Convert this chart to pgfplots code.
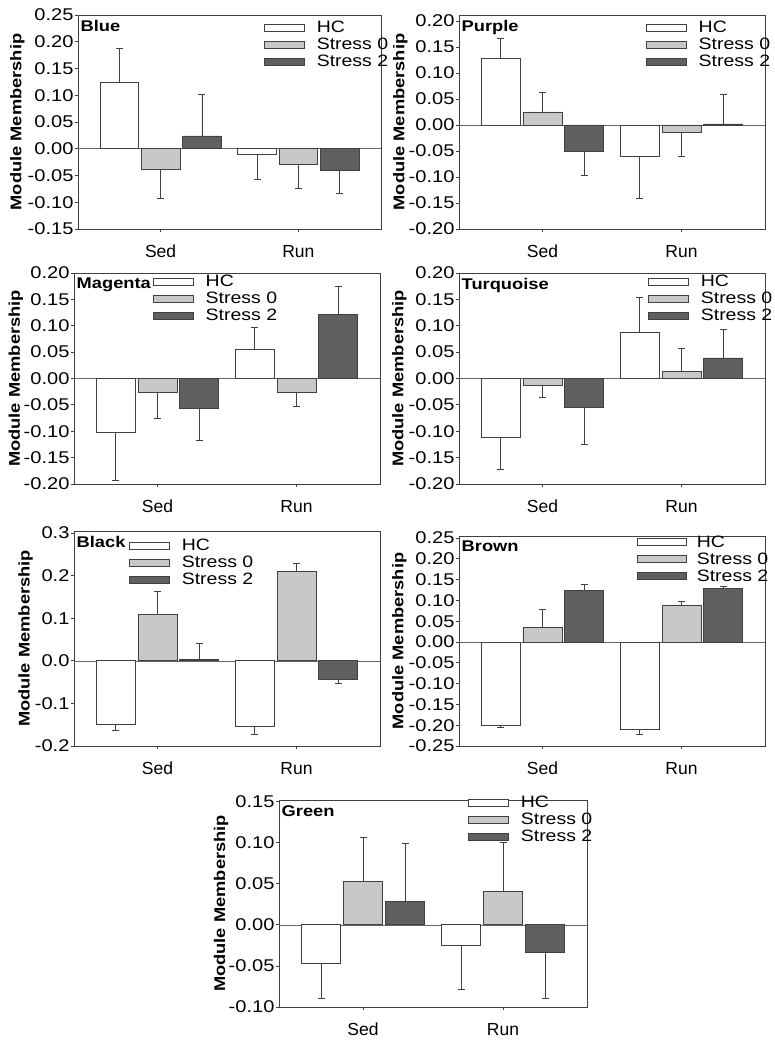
\documentclass[border=0pt]{standalone}
\usepackage{pgfplots}
\pgfplotsset{compat=1.18}
\usepackage{pgfplotstable}
\usepackage{fontspec}
\setmainfont{Liberation Sans}
\newfontfamily\wideF[FakeStretch=1.18]{Liberation Sans}
\newcommand\tickfont{\wideF\fontsize{17}{19}\selectfont}
\newcommand\legfont{\wideF\fontsize{16.5}{18}\selectfont}
\newcommand\titfont{\wideF\bfseries\fontsize{15.5}{17}\selectfont}
\newcommand\ylabfont{\wideF\bfseries\fontsize{15.5}{17}\selectfont}
\newcommand\xlabfont{\fontsize{17.5}{19}\selectfont}
\definecolor{sz}{HTML}{C8C8C8}
\definecolor{st}{HTML}{606060}
\definecolor{edge}{HTML}{404040}

% columns: x, value, error plus, error minus for HC, Stress 0, Stress 2
\pgfplotstableread{
x hc hcp hcm s0 s0p s0m s2 s2p s2m
0 0.124 0.064 0 -0.038 0 0.055 0.024 0.078 0
1 -0.011 0 0.046 -0.029 0 0.046 -0.041 0 0.043
}\tblue
\pgfplotstableread{
x hc hcp hcm s0 s0p s0m s2 s2p s2m
0 0.129 0.038 0 0.025 0.037 0 -0.050 0 0.047
1 -0.061 0 0.081 -0.015 0 0.046 0.002 0.056 0
}\tpurple
\pgfplotstableread{
x hc hcp hcm s0 s0p s0m s2 s2p s2m
0 -0.102 0 0.092 -0.027 0 0.049 -0.056 0 0.062
1 0.056 0.041 0 -0.027 0 0.026 0.121 0.053 0
}\tmagenta
\pgfplotstableread{
x hc hcp hcm s0 s0p s0m s2 s2p s2m
0 -0.112 0 0.061 -0.013 0 0.022 -0.055 0 0.070
1 0.088 0.065 0 0.013 0.045 0 0.039 0.054 0
}\tturq
\pgfplotstableread{
x hc hcp hcm s0 s0p s0m s2 s2p s2m
0 -0.149 0 0.015 0.110 0.053 0 0.003 0.039 0
1 -0.155 0 0.018 0.209 0.019 0 -0.044 0 0.009
}\tblack
\pgfplotstableread{
x hc hcp hcm s0 s0p s0m s2 s2p s2m
0 -0.201 0 0.005 0.035 0.044 0 0.125 0.013 0
1 -0.211 0 0.012 0.089 0.008 0 0.128 0.006 0
}\tbrown
\pgfplotstableread{
x hc hcp hcm s0 s0p s0m s2 s2p s2m
0 -0.047 0 0.043 0.053 0.054 0 0.028 0.071 0
1 -0.025 0 0.053 0.041 0.059 0 -0.033 0 0.056
}\tgreen

\pgfplotsset{
  barst/.style={ybar, bar width=0.28, bar shift=0pt, draw=edge, line width=0.75pt,
    error bars/y dir=both, error bars/y explicit,
    error bars/error bar style={draw=edge, line width=0.75pt},
    error bars/error mark options={rotate=90, mark size=3.5pt, draw=edge, line width=0.75pt}},
  panel/.style n args={3}{
    scale only axis, anchor=south west,
    xmin=-0.6, xmax=1.6, xtick={0,1}, xticklabels={Sed,Run},
    axis line style={draw=edge, line width=0.75pt},
    tick align=outside, major tick length=3pt, tick pos=left,
    tick style={draw=edge, line width=0.75pt},
    xticklabel style={font=\xlabfont, yshift=-9.5pt},
    yticklabel style={font=\tickfont, xshift=2pt},
    /pgf/number format/assume math mode=true,
    y tick label style={/pgf/number format/.cd, fixed, fixed zerofill, precision=#2},
    ylabel={Module Membership},
    ylabel style={font=\ylabfont, at={(axis description cs:#1,0.5)}, anchor=center},
    legend image code/.code={\draw[##1] (0pt,-2pt) rectangle (#3,5pt);},
    legend cell align=left,
    legend style={draw=none, fill=none, inner sep=0pt, outer sep=0pt,
      row sep=1pt, column sep=12pt, font=\legfont, anchor=north west,
      nodes={inner sep=0pt, text height=12pt, text depth=4pt}},
  },
}

\newcommand\bars[2]{%
  \addplot[forget plot, draw=black!60, line width=0.6pt] coordinates {(-0.6,0) (1.6,0)};
  \addplot[barst, fill=white] table[x expr=\thisrow{x}-0.3, y=hc, y error plus=hcp, y error minus=hcm]{#1};
  \addlegendentry{HC}
  \addplot[barst, fill=sz] table[x=x, y=s0, y error plus=s0p, y error minus=s0m]{#1};
  \addlegendentry{Stress 0}
  \addplot[barst, fill=st] table[x expr=\thisrow{x}+0.3, y=s2, y error plus=s2p, y error minus=s2m]{#1};
  \addlegendentry{Stress 2}
  \node[anchor=north west, inner sep=0pt, font=\titfont, xshift=2.5pt, yshift=-5pt] at (rel axis cs:0,1) {#2};
}

\begin{document}
\begin{tikzpicture}
\useasboundingbox (0pt,0pt) rectangle (775pt,1042pt);

\begin{axis}[panel={-0.2}{2}{40pt}, at={(78pt,813pt)}, width=303pt, height=214pt,
  ymin=-0.15, ymax=0.25, ytick={-0.15,-0.10,-0.05,0,0.05,0.10,0.15,0.20,0.25},
  legend style={at={(axis description cs:0.614,1)}, yshift=-6pt}]
\bars{\tblue}{Blue}
\end{axis}

\begin{axis}[panel={-0.192}{2}{40pt}, at={(459pt,813pt)}, width=306pt, height=214pt,
  ymin=-0.20, ymax=0.2115, ytick={-0.20,-0.15,-0.10,-0.05,0,0.05,0.10,0.15,0.20},
  legend style={at={(axis description cs:0.611,1)}, yshift=-6pt}]
\bars{\tpurple}{Purple}
\end{axis}

\begin{axis}[panel={-0.19}{2}{40pt}, at={(74pt,558pt)}, width=306pt, height=211pt,
  ymin=-0.20, ymax=0.20, ytick={-0.20,-0.15,-0.10,-0.05,0,0.05,0.10,0.15,0.20},
  legend style={at={(axis description cs:0.258,1)}, yshift=-2pt}]
\bars{\tmagenta}{Magenta}
\end{axis}

\begin{axis}[panel={-0.195}{2}{40pt}, at={(459pt,558pt)}, width=306pt, height=211pt,
  ymin=-0.20, ymax=0.20, ytick={-0.20,-0.15,-0.10,-0.05,0,0.05,0.10,0.15,0.20},
  legend style={at={(axis description cs:0.618,1)}, yshift=-2pt}]
\bars{\tturq}{Turquoise}
\end{axis}

\begin{axis}[panel={-0.158}{1}{40pt}, at={(74pt,296pt)}, width=306pt, height=215pt,
  ymin=-0.20, ymax=0.305, ytick={-0.2,-0.1,0,0.1,0.2,0.3},
  legend style={at={(axis description cs:0.18,1)}, yshift=-8pt}]
\bars{\tblack}{Black}
\end{axis}

\begin{axis}[panel={-0.195}{2}{49pt}, at={(459pt,296pt)}, width=306pt, height=210pt,
  ymin=-0.25, ymax=0.255, ytick={-0.25,-0.20,-0.15,-0.10,-0.05,0,0.05,0.10,0.15,0.20,0.25},
  legend style={at={(axis description cs:0.582,1)}, yshift=0.5pt, column sep=10pt}]
\bars{\tbrown}{Brown}
\end{axis}

\begin{axis}[panel={-0.188}{2}{40pt}, at={(279pt,35pt)}, width=308pt, height=207pt,
  ymin=-0.10, ymax=0.152, ytick={-0.10,-0.05,0,0.05,0.10,0.15},
  legend style={at={(axis description cs:0.614,1)}, yshift=4pt}]
\bars{\tgreen}{Green}
\end{axis}

\end{tikzpicture}
\end{document}
